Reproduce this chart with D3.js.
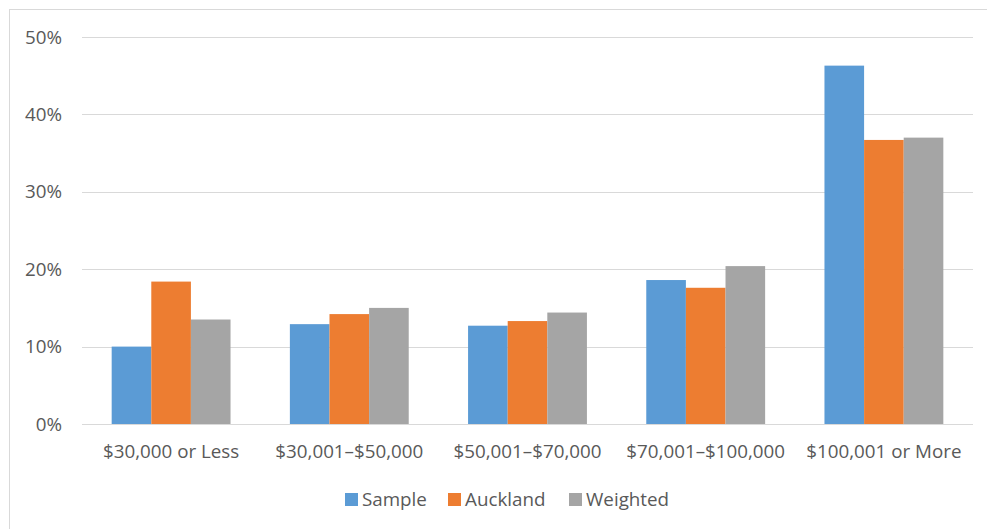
<!DOCTYPE html>
<html>
<head>
<meta charset="utf-8">
<script src="https://cdn.jsdelivr.net/npm/d3@7"></script>
<style>
  html, body { margin: 0; padding: 0; background: #fff; }
  svg { display: block; }
  text { font-family: "Open Sans", sans-serif; fill: #595959; }
</style>
</head>
<body>
<svg id="chart" width="987" height="529"></svg>
<script>
// Household income distribution: sample vs. Auckland population vs. weighted sample
const categories = ["$30,000 or Less", "$30,001–$50,000", "$50,001–$70,000", "$70,001–$100,000", "$100,001 or More"];
const seriesNames = ["Sample", "Auckland", "Weighted"];
const sampleValues   = [10.0, 12.9, 12.7, 18.6, 46.3];
const aucklandValues = [18.4, 14.2, 13.3, 17.6, 36.7];
const weightedValues = [13.5, 15.0, 14.4, 20.4, 37.0];
const yTicks = [0, 10, 20, 30, 40, 50];
const colors = ["#5B9BD5", "#ED7D31", "#A5A5A5"];

const series = [sampleValues, aucklandValues, weightedValues];
const rows = categories.map((c, i) => ({
  category: c,
  values: seriesNames.map((s, k) => ({ series: s, value: series[k][i], k }))
}));

const svg = d3.select("#chart");
const W = 987, H = 529;
const plot = { left: 82, right: 973, top: 37, bottom: 424 };
const fontSize = "18.8px";

// Chart frame
svg.append("rect")
  .attr("x", 9.5).attr("y", 9.5)
  .attr("width", W + 20).attr("height", H + 20)
  .attr("fill", "#fff").attr("stroke", "#D9D9D9").attr("stroke-width", 1);

const x0 = d3.scaleBand().domain(categories).range([plot.left, plot.right]).paddingInner(0.333).paddingOuter(0.1665);
const x1 = d3.scaleBand().domain(seriesNames).range([0, x0.bandwidth()]);
const y = d3.scaleLinear().domain([0, 50]).range([plot.bottom, plot.top]);

// Gridlines
svg.append("g").selectAll("line").data(yTicks).join("line")
  .attr("x1", plot.left).attr("x2", plot.right)
  .attr("y1", d => Math.round(y(d)) + 0.5).attr("y2", d => Math.round(y(d)) + 0.5)
  .attr("stroke", "#D9D9D9").attr("stroke-width", 1);

// Y axis labels
const yAxis = d3.axisLeft(y).tickValues(yTicks).tickFormat(d => d + "%").tickSize(0).tickPadding(0);
const yg = svg.append("g").attr("transform", `translate(62,0)`).call(yAxis);
yg.select(".domain").remove();
yg.selectAll("text").style("font-size", fontSize).style("font-family", "Open Sans, sans-serif").attr("fill", "#595959");

// Bars
svg.append("g").selectAll("g").data(rows).join("g")
  .attr("transform", d => `translate(${x0(d.category)},0)`)
  .selectAll("rect").data(d => d.values).join("rect")
  .attr("x", d => x1(d.series))
  .attr("width", x1.bandwidth())
  .attr("y", d => y(d.value))
  .attr("height", d => y(0) - y(d.value))
  .attr("fill", d => colors[d.k]);

// Baseline over bars
svg.append("line")
  .attr("x1", plot.left).attr("x2", plot.right)
  .attr("y1", plot.bottom + 0.5).attr("y2", plot.bottom + 0.5)
  .attr("stroke", "#D9D9D9");

// X axis labels
const xAxis = d3.axisBottom(x0).tickSize(0).tickPadding(0);
const xg = svg.append("g").attr("transform", `translate(0,${plot.bottom})`).call(xAxis);
xg.select(".domain").remove();
xg.selectAll("text")
  .attr("y", 34).attr("dy", null)
  .style("font-size", fontSize).style("font-family", "Open Sans, sans-serif").attr("fill", "#595959");

// Legend
const legendItems = [
  { name: "Sample", x: 345 },
  { name: "Auckland", x: 448 },
  { name: "Weighted", x: 569 }
];
const lg = svg.append("g").selectAll("g").data(legendItems).join("g")
  .attr("transform", d => `translate(${d.x},0)`);
lg.append("rect").attr("x", 0).attr("y", 493).attr("width", 13).attr("height", 13)
  .attr("fill", (d, i) => colors[i]);
lg.append("text").attr("x", 17).attr("y", 506)
  .style("font-size", fontSize).text(d => d.name);
</script>
</body>
</html>
